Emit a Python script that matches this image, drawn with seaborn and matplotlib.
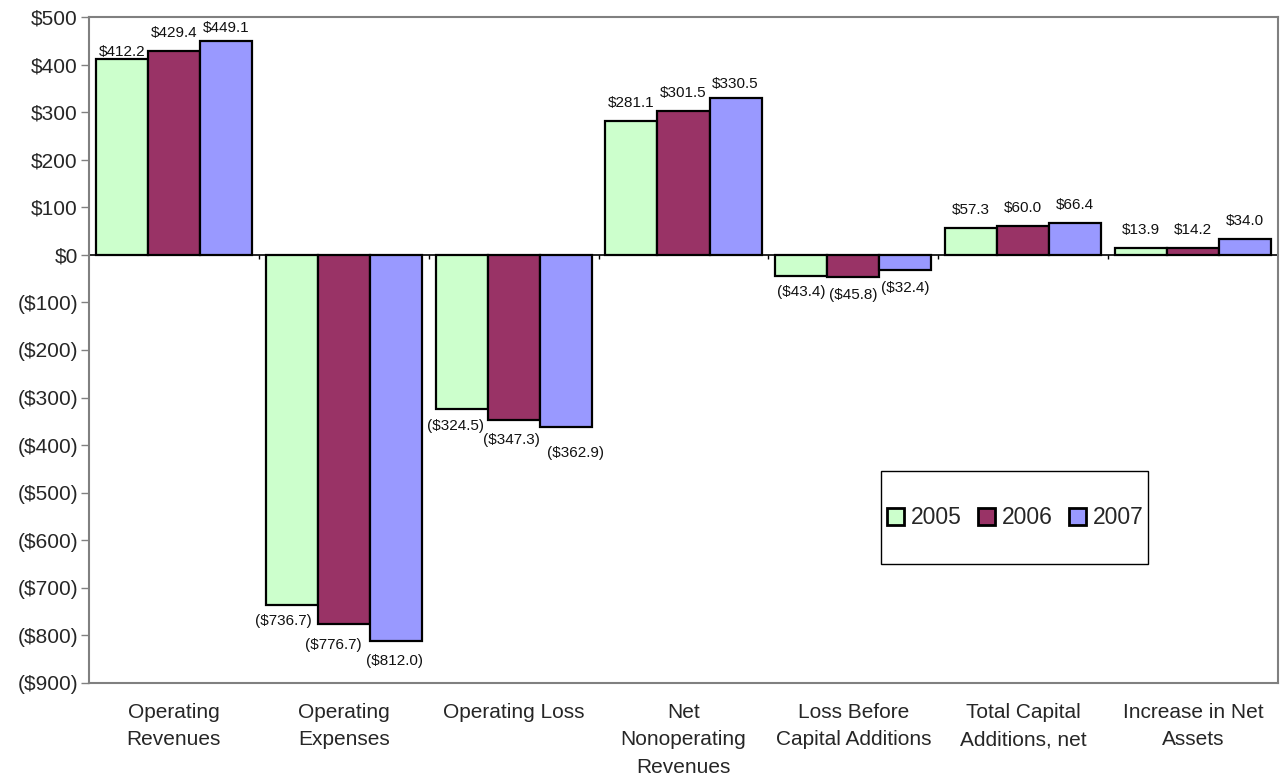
import matplotlib
matplotlib.use("Agg")
import matplotlib.pyplot as plt
import seaborn as sns
import pandas as pd
from matplotlib.patches import Patch, Rectangle
from matplotlib.ticker import FuncFormatter, FixedLocator

categories = ["Operating\nRevenues", "Operating\nExpenses", "Operating Loss",
              "Net\nNonoperating\nRevenues", "Loss Before\nCapital Additions",
              "Total Capital\nAdditions, net", "Increase in Net\nAssets"]
years = ["2005", "2006", "2007"]
v2005 = [412.2, -736.7, -324.5, 281.1, -43.4, 57.3, 13.9]
v2006 = [429.4, -776.7, -347.3, 301.5, -45.8, 60.0, 14.2]
v2007 = [449.1, -812.0, -362.9, 330.5, -32.4, 66.4, 34.0]
colors = ["#CCFFCC", "#993366", "#9999FF"]
yticks = list(range(-900, 501, 100))

# label placement tweaks (pixels): (category, series) -> (dx, gap)
label_shift = {
    (0, 0): (0, 3), (0, 1): (0, 14), (0, 2): (0, 9),
    (3, 2): (0, 10),
    (1, 0): (-8.5, 9), (1, 1): (-10.5, 14), (1, 2): (-1, 13),
    (2, 0): (-6, 10), (2, 1): (-2, 13), (2, 2): (10, 19),
    (4, 0): (0, 9), (4, 1): (0, 11), (4, 2): (0, 11),
}

rows = []
for yr, vals in zip(years, [v2005, v2006, v2007]):
    for c, v in zip(categories, vals):
        rows.append({"cat": c, "year": yr, "val": v})
df = pd.DataFrame(rows)

sns.set_style("white")
plt.rcParams["font.family"] = ["Liberation Sans", "DejaVu Sans"]

fig = plt.figure(figsize=(12.83, 7.76), dpi=100)
ax = fig.add_axes([89/1283, 1-683/776, (1278-89)/1283, (683-17)/776])

sns.barplot(data=df, x="cat", y="val", hue="year", palette=colors,
            order=categories, hue_order=years, width=0.92, gap=0,
            edgecolor="black", linewidth=1.6, saturation=1, legend=False,
            errorbar=None, ax=ax)

def fmt(v):
    return f"(${-v:.1f})" if v < 0 else f"${v:.1f}"

px = 72 / 100
for si, cont in enumerate(ax.containers):
    vals = cont.datavalues
    for ci, (bar, v) in enumerate(zip(cont, vals)):
        cx = bar.get_x() + bar.get_width() / 2
        if v >= 0:
            dx, gap = label_shift.get((ci, si), (0, 14))
            ax.annotate(fmt(v), (cx, v), xytext=(dx * px, gap * px),
                        textcoords="offset points",
                        ha="center", va="baseline", fontsize=11, color="#111111")
        else:
            dx, gap = label_shift.get((ci, si), (0, 10))
            ax.annotate(fmt(v), (cx, v), xytext=(dx * px, -gap * px),
                        textcoords="offset points",
                        ha="center", va="top", fontsize=11, color="#111111")

ax.set_ylim(-900, 500)
ax.set_xlim(-0.5, len(categories) - 0.5)
ax.yaxis.set_major_locator(FixedLocator(yticks))
ax.yaxis.set_major_formatter(FuncFormatter(
    lambda v, p: f"(${-v:.0f})" if v < 0 else f"${v:.0f}"))
ax.tick_params(axis="y", left=True, length=6, width=1, color="#808080",
               labelsize=15, pad=2)
ax.set_xticks(range(len(categories)))
ax.set_xticklabels(categories, linespacing=1.55, fontsize=15, ha="center")
ax.tick_params(axis="x", bottom=False, pad=11)
ax.set_xlabel("")
ax.set_ylabel("")

for s in ax.spines.values():
    s.set_color("#808080")
    s.set_linewidth(1.5)
    s.set_visible(True)

ax.axhline(0, color="black", lw=1.2, zorder=1)
bounds = [i + 0.5 for i in range(len(categories) - 1)] + [len(categories) - 0.5]
ax.vlines(bounds, -9, 0, color="black", lw=1, zorder=1)

# legend
fig.patches.append(Rectangle((881/1283, 1-564/776), 267/1283, 93/776,
                             transform=fig.transFigure, fill=False,
                             edgecolor="black", lw=1, zorder=5))
handles = [Patch(facecolor=c, edgecolor="black", lw=2) for c in colors]
fig.legend(handles, years, loc="center", bbox_to_anchor=(1015/1283, 1-518/776),
           ncol=3, frameon=False, fontsize=16.5, handlelength=0.75,
           handleheight=0.75, handletextpad=0.3, columnspacing=0.7,
           borderpad=0)

fig.savefig("out.png", dpi=100)
